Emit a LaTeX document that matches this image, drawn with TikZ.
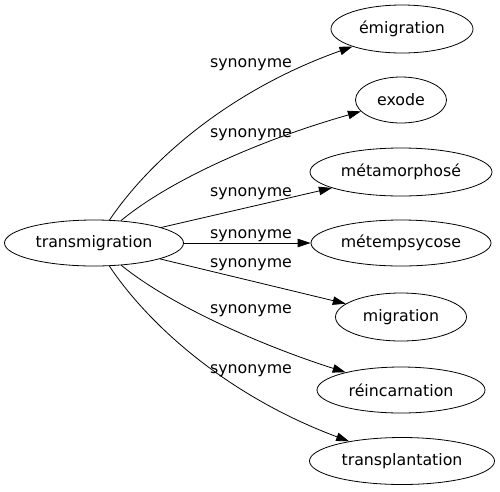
\documentclass[tikz,border=0pt]{standalone}
\usepackage{fontspec}
\setmainfont{DejaVu Sans}
\usetikzlibrary{arrows.meta,shapes.geometric}
\tikzset{
  word/.style={draw, ellipse, inner sep=0pt, line width=0.8pt, font=\fontsize{15.8}{18}\selectfont},
  rel/.style={font=\fontsize{15.8}{18}\selectfont, inner sep=0pt, anchor=base},
  edge/.style={line width=0.8pt, -{Triangle[length=13pt,width=8.5pt]}},
}
\begin{document}
\begin{tikzpicture}[x=1pt,y=-1pt]
\useasboundingbox (0,0) rectangle (500,491);
\node[word, minimum width=179pt, minimum height=46pt] (t) at (94,243) {transmigration};
\node[word, minimum width=142pt, minimum height=48pt] (n1) at (402,29) {émigration};
\node[word, minimum width=91pt, minimum height=46pt] (n2) at (401,100) {exode};
\node[word, minimum width=182pt, minimum height=48pt] (n3) at (401,172) {métamorphosé};
\node[word, minimum width=180pt, minimum height=46pt] (n4) at (401,243) {métempsycose};
\node[word, minimum width=131pt, minimum height=48pt] (n5) at (401,317) {migration};
\node[word, minimum width=168pt, minimum height=46pt] (n6) at (401,390) {réincarnation};
\node[word, minimum width=185pt, minimum height=47pt] (n7) at (402,461) {transplantation};

\draw[edge] (t) .. controls (150,160) and (230,90) .. (n1);
\draw[edge] (t) .. controls (170,180) and (260,140) .. (n2);
\draw[edge] (t) -- (n3);
\draw[edge] (t) -- (n4);
\draw[edge] (t) -- (n5);
\draw[edge] (t) .. controls (170,305) and (260,345) .. (n6);
\draw[edge] (t) .. controls (150,327) and (230,397) .. (n7);

\node[rel] (l1) at (251,67) {synonyme};
\node[rel] (l2) at (251,137) {synonyme};
\node[rel] (l3) at (251,196) {synonyme};
\node[rel] (l4) at (251,238) {synonyme};
\node[rel] (l5) at (251,267) {synonyme};
\node[rel] (l6) at (251,313) {synonyme};
\node[rel] (l7) at (251,373) {synonyme};
\end{tikzpicture}
\end{document}
